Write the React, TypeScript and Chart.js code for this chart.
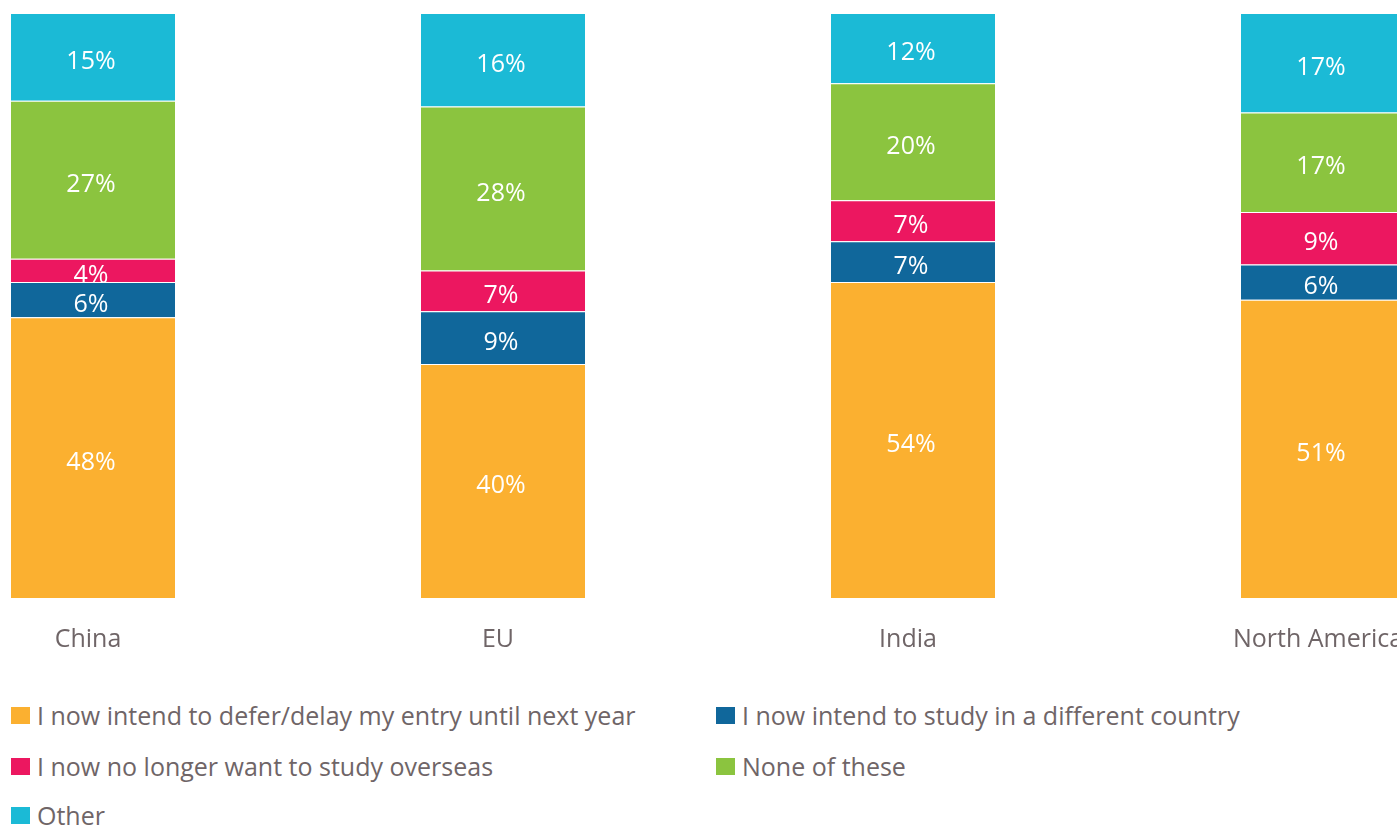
import React, { useEffect, useRef } from "react";
import { Chart, registerables } from "chart.js";

Chart.register(...registerables);

const categories = ["China", "EU", "India", "North America"];
const seriesNames = [
  "I now intend to defer/delay my entry until next year",
  "I now intend to study in a different country",
  "I now no longer want to study overseas",
  "None of these",
  "Other",
];
const deferValues = [48, 40, 54, 51];
const differentCountryValues = [6, 9, 7, 6];
const noLongerValues = [4, 7, 7, 9];
const noneValues = [27, 28, 20, 17];
const otherValues = [15, 16, 12, 17];
const seriesColors = ["#FBB030", "#10679B", "#EC1760", "#8BC43F", "#1BBAD6"];

const FONT = "'Open Sans', 'Noto Sans', sans-serif";
const TEXT_COLOR = "#6f6567";

const labelPlugin = {
  id: "segmentLabels",
  afterDatasetsDraw(chart: any) {
    const ctx = chart.ctx;
    ctx.save();
    ctx.fillStyle = "#ffffff";
    ctx.font = `25px ${FONT}`;
    ctx.textAlign = "center";
    ctx.textBaseline = "middle";
    chart.data.datasets.forEach((ds: any, di: number) => {
      const meta = chart.getDatasetMeta(di);
      meta.data.forEach((el: any, i: number) => {
        const p = el.getProps(["x", "y", "base"], true);
        const v = ds.data[i];
        ctx.fillText(`${v}%`, p.x - 2, (p.y + p.base) / 2 + 5);
      });
    });
    ctx.restore();
  },
};

export default function App() {
  const ref = useRef<HTMLCanvasElement | null>(null);
  useEffect(() => {
    if (!ref.current) return;
    const values = [deferValues, differentCountryValues, noLongerValues, noneValues, otherValues];
    const chart = new Chart(ref.current, {
      type: "bar",
      data: {
        labels: categories,
        datasets: values.map((d, i) => ({
          label: seriesNames[i],
          data: d,
          backgroundColor: seriesColors[i],
          borderColor: "rgba(255,255,255,0.55)",
          borderWidth: { top: 1, bottom: 0, left: 0, right: 0 },
          borderSkipped: false,
          barPercentage: 0.4,
          categoryPercentage: 1,
        })),
      },
      options: {
        animation: false,
        responsive: true,
        maintainAspectRatio: false,
        layout: { padding: { top: 13, left: 0, right: 0, bottom: 0 } },
        plugins: { legend: { display: false }, tooltip: { enabled: false } },
        scales: {
          x: {
            stacked: true,
            grid: { display: false },
            border: { display: false },
            ticks: {
              color: TEXT_COLOR,
              font: { family: FONT, size: 25 },
              padding: 19,
              labelOffset: -5,
            },
            afterFit: (scale: any) => {
              scale.height = 60;
            },
          },
          y: { stacked: true, display: false, min: 0, max: 100 },
        },
      },
      plugins: [labelPlugin],
    });
    return () => chart.destroy();
  }, []);

  const legendItems = [
    { name: seriesNames[0], color: seriesColors[0], left: 11, top: 700 },
    { name: seriesNames[1], color: seriesColors[1], left: 716, top: 700 },
    { name: seriesNames[2], color: seriesColors[2], left: 11, top: 751 },
    { name: seriesNames[3], color: seriesColors[3], left: 716, top: 751 },
    { name: seriesNames[4], color: seriesColors[4], left: 11, top: 800 },
  ];

  return (
    <div
      style={{
        position: "fixed",
        left: 0,
        top: 0,
        width: 1397,
        height: 825,
        overflow: "hidden",
        background: "#ffffff",
        fontFamily: FONT,
      }}
    >
      <div style={{ position: "absolute", left: -112, top: 0, width: 1640, height: 658 }}>
        <canvas ref={ref} />
      </div>
      {legendItems.map((it) => (
        <div
          key={it.name}
          style={{
            position: "absolute",
            left: it.left,
            top: it.top,
            height: 30,
            display: "flex",
            alignItems: "center",
            whiteSpace: "nowrap",
            color: TEXT_COLOR,
            fontSize: 25,
          }}
        >
          <span style={{ display: "inline-block", width: 19, height: 17, background: it.color, marginRight: 7 }} />
          <span>{it.name}</span>
        </div>
      ))}
    </div>
  );
}
